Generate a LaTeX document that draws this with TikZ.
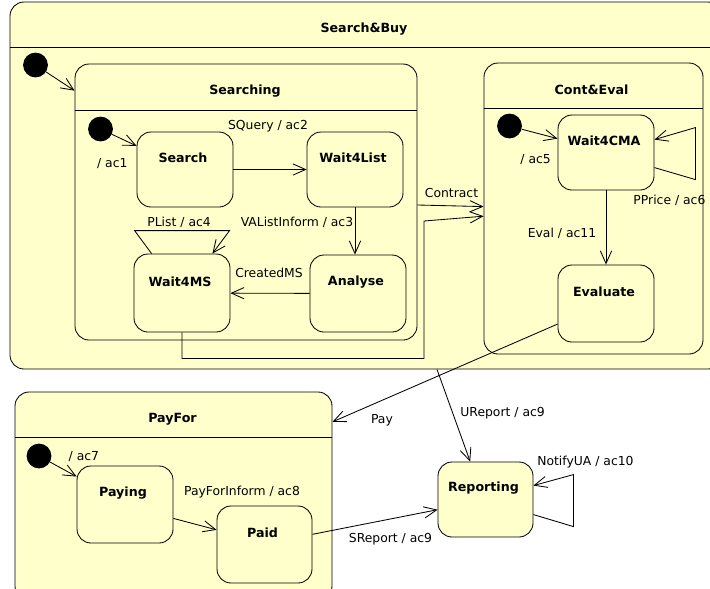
\documentclass[tikz,border=0pt]{standalone}
\usepackage{fontspec}
\setmainfont{DejaVu Sans}
\usetikzlibrary{positioning,fit,calc}
\usetikzlibrary{arrows.meta}

\definecolor{statefill}{RGB}{255,255,204}

\begin{document}
\begin{tikzpicture}[x=0.025cm,y=-0.025cm,
    every node/.style={font=\fontsize{8.8}{10}\selectfont},
    state/.style={draw,fill=statefill,rounded corners=3.5mm,inner sep=0pt,line width=0.6pt},
    boxname/.style={font=\fontsize{9}{10}\selectfont\bfseries},
    statename/.style={boxname,shift={(-2,-11.5)}},
    init/.style={circle,fill=black,minimum size=6.2mm,inner sep=0pt},
    trans/.style={-{Straight Barb[length=9pt,width=8pt]},line width=0.6pt},
    lbl/.style={inner sep=1pt}]
  \useasboundingbox (0,0) rectangle (710,588);
  \clip (0,0) rectangle (710,588);

  % composite states
  \node (searchbuy) [state,fit={(10,2) (722,369)},label={[boxname,shift={(-2,-156.5)}]center:Search\&Buy}] {};
  \draw [line width=0.6pt] (searchbuy.west |- 0,47) -- (searchbuy.east |- 0,47);
  \node (searching) [state,fit={(75,64) (417,340)},label={[boxname,shift={(-1,-111)}]center:Searching}] {};
  \draw [line width=0.6pt] (searching.west |- 0,110) -- (searching.east |- 0,110);
  \node (conteval) [state,fit={(484,63) (703,354)},label={[boxname,shift={(-2,-118.5)}]center:Cont\&Eval}] {};
  \draw [line width=0.6pt] (conteval.west |- 0,108) -- (conteval.east |- 0,108);
  \node (payfor) [state,fit={(15,392) (332,600)},label={[boxname,shift={(-1,-77)}]center:PayFor}] {};
  \draw [line width=0.6pt] (payfor.west |- 0,437) -- (payfor.east |- 0,437);

  % simple states
  \node (search) [state,fit={(137,132) (233,207)},label={[statename]center:Search}] {};
  \node (wait4list) [state,fit={(307,132) (403,207)},label={[statename]center:Wait4List}] {};
  \node (analyse) [state,fit={(310,255) (406,332)},label={[statename]center:Analyse}] {};
  \node (wait4ms) [state,fit={(134,254) (230,332)},label={[statename]center:Wait4MS}] {};
  \node (wait4cma) [state,fit={(558,115) (654,190)},label={[statename]center:Wait4CMA}] {};
  \node (evaluate) [state,fit={(558,265) (654,342)},label={[statename]center:Evaluate}] {};
  \node (paying) [state,fit={(77,466) (173,543)},label={[statename]center:Paying}] {};
  \node (paid) [state,fit={(217,506) (312,583)},label={[statename]center:Paid}] {};
  \node (reporting) [state,fit={(438,462) (533,537)},label={[statename]center:Reporting}] {};

  % initial states
  \node (init1) [init] at (35.5,65) {};
  \node (init2) [init] at (100.5,129) {};
  \node (init3) [init] at (509.5,126) {};
  \node (init4) [init] at (39,456) {};

  % transitions
  \draw [trans] (init1) -- (searching.147);
  \draw [trans] (init2) -- (search.154) node (lac1) [lbl,midway,shift={(-12,23)}] {/ ac1};
  \draw [trans] (search) -- (wait4list) node (lsquery) [lbl,midway,shift={(-2,-43.5)}] {SQuery / ac2};
  \draw [trans] (wait4list.south) -- (wait4list.south |- analyse.north)
    node (lvalist) [lbl,midway,anchor=east,shift={(0,-9)}] {VAListInform / ac3};
  \draw [trans] (analyse) -- (wait4ms) node (lcreated) [lbl,midway,shift={(-1,-20)}] {CreatedMS};
  \draw [trans] ($(wait4ms.north west)+(18,0)$) -- ++(-17,-23)
    -- ++(95,0) node (lplist) [lbl,midway,shift={(-3,-8)}] {PList / ac4}
    -- ($(wait4ms.north east)+(-18,0)$);
  \draw [trans] (wait4ms.south) -- ++(0,26) -| (424,221) -- (conteval.184);
  \draw [trans] (searching.-1) -- (conteval.179) node (lcontract) [lbl,midway,shift={(1,-13)}] {Contract};
  \draw [trans] (init3) -- (wait4cma.164.6) node (lac5) [lbl,midway,shift={(-4,26)}] {/ ac5};
  \draw [trans] ($(wait4cma.north east)+(0,53)$)
    -- ++(41,12) node (lpprice) [lbl,midway,shift={(-5.5,27)}] {PPrice / ac6}
    -- ++(0,-52) -- ($(wait4cma.north east)+(0,25)$);
  \draw [trans] (wait4cma) -- (evaluate) node (leval) [lbl,midway,shift={(-44,5.5)}] {Eval / ac11};
  \draw [trans] (evaluate.203.7) -- (payfor.25.6) node (lpay) [lbl,pos=.78,shift={(0,20)}] {Pay};
  \draw [trans] (searchbuy.south -| 437,0) -- (reporting.112.5)
    node (lureport) [lbl,pos=.47,shift={(50,0)}] {UReport / ac9};
  \draw [trans] (init4) -- (paying.150) node (lac7) [lbl,midway,shift={(20.5,-12.5)}] {/ ac7};
  \draw [trans] (paying.-16.8) -- (paid.163) node (lpayfor) [lbl,midway,shift={(47,-32.5)}] {PayForInform / ac8};
  \draw [trans] (paid.12.5) -- (reporting.192.2) node (lsreport) [lbl,midway,shift={(15.5,17)}] {SReport / ac9};
  \draw [trans] ($(reporting.north east)+(0,53)$) -- ++(40,12) -- ++(0,-52)
    -- ($(reporting.north east)+(0,24)$) node (lnotify) [lbl,midway,shift={(32,-18.5)}] {NotifyUA / ac10};
\end{tikzpicture}
\end{document}
